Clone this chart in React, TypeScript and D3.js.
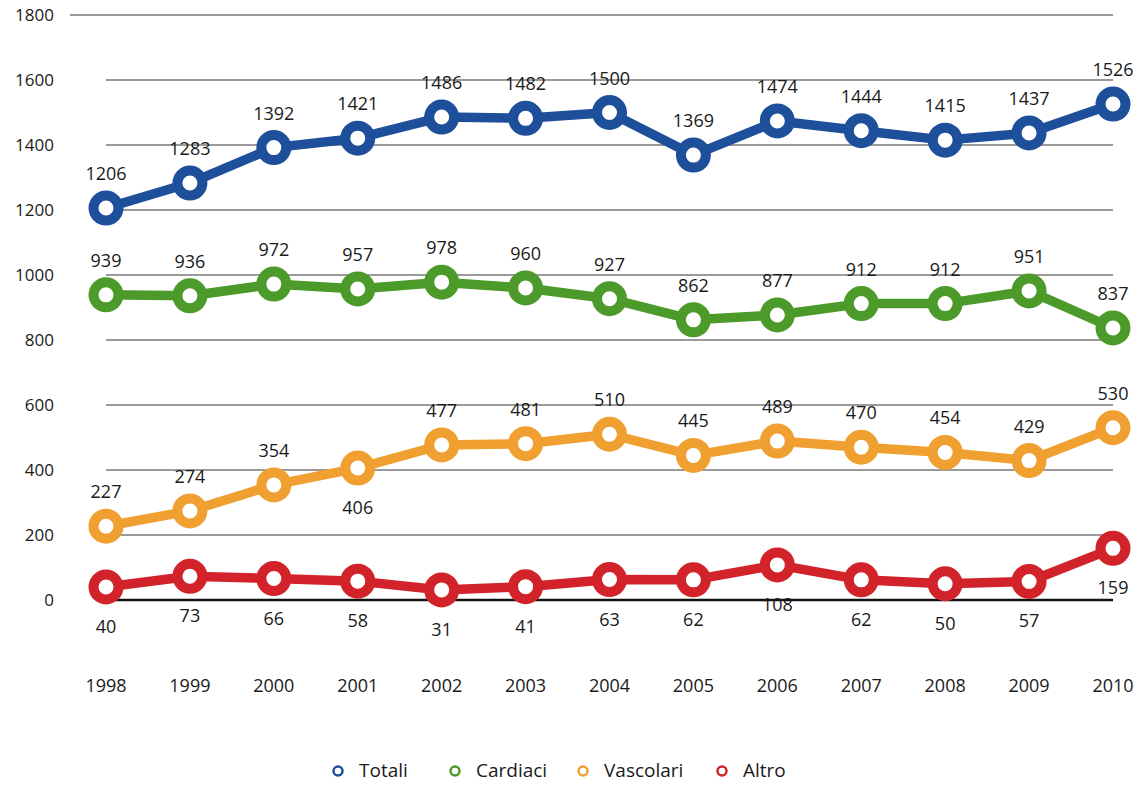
import React from "react";
import * as d3 from "d3";

const years = ["1998", "1999", "2000", "2001", "2002", "2003", "2004", "2005", "2006", "2007", "2008", "2009", "2010"];
const totali = [1206, 1283, 1392, 1421, 1486, 1482, 1500, 1369, 1474, 1444, 1415, 1437, 1526];
const cardiaci = [939, 936, 972, 957, 978, 960, 927, 862, 877, 912, 912, 951, 837];
const vascolari = [227, 274, 354, 406, 477, 481, 510, 445, 489, 470, 454, 429, 530];
const altro = [40, 73, 66, 58, 31, 41, 63, 62, 108, 62, 50, 57, 159];
const yTicks = [0, 200, 400, 600, 800, 1000, 1200, 1400, 1600, 1800];

// where the value label sits for each point ("a" above, "b" below)
const vascolariPos = ["a", "a", "a", "b", "a", "a", "a", "a", "a", "a", "a", "a", "a"];

const series = [
  { name: "Totali", values: totali, color: "#1e4f9b", pos: null },
  { name: "Cardiaci", values: cardiaci, color: "#4c9a2a", pos: null },
  { name: "Vascolari", values: vascolari, color: "#f0a030", pos: vascolariPos },
  { name: "Altro", values: altro, color: "#d2232a", pos: years.map(() => "b") },
];

const W = 1147, H = 785;

export default function App() {
  const x = d3.scalePoint<string>().domain(years).range([106, 1113]);
  const y = d3.scaleLinear().domain([0, 1800]).range([600, 15]);

  const line = d3
    .line<number>()
    .x((d, i) => x(years[i]) as number)
    .y((d) => y(d));

  const legendX = [338, 455, 583, 722];

  return (
    <div style={{ position: "absolute", left: 0, top: 0 }}>
      <svg width={W} height={H} style={{ display: "block", background: "#fff" }} fontFamily="'Open Sans', sans-serif">
        {/* grid */}
        {yTicks.map((t) => (
          <g key={t}>
            <line
              x1={t === 1800 ? 70 : 106}
              x2={1113}
              y1={y(t)}
              y2={y(t)}
              stroke={t === 0 ? "#111" : "#9a9a9a"}
              strokeWidth={t === 0 ? 2.5 : 2}
            />
            <text x={54} y={y(t) + 6} textAnchor="end" fontSize={17} fill="#1a1a1a">
              {t}
            </text>
          </g>
        ))}

        {/* years */}
        {years.map((yr) => (
          <text key={yr} x={x(yr)} y={692} textAnchor="middle" fontSize={18} fill="#1a1a1a">
            {yr}
          </text>
        ))}

        {/* series */}
        {series.map((s) => (
          <g key={s.name}>
            <path d={line(s.values) || ""} fill="none" stroke={s.color} strokeWidth={9.5} strokeLinejoin="round" />
            {s.values.map((v, i) => (
              <circle key={i} cx={x(years[i])} cy={y(v)} r={12.5} fill="#fff" stroke={s.color} strokeWidth={10} />
            ))}
            {s.values.map((v, i) => {
              const below = s.pos && s.pos[i] === "b";
              return (
                <text
                  key={"l" + i}
                  x={x(years[i])}
                  y={y(v) + (below ? 46 : -28)}
                  textAnchor="middle"
                  fontSize={18}
                  fill="#1a1a1a"
                >
                  {v}
                </text>
              );
            })}
          </g>
        ))}

        {/* legend */}
        {series.map((s, i) => (
          <g key={"lg" + s.name}>
            <circle cx={legendX[i]} cy={771} r={4.5} fill="#fff" stroke={s.color} strokeWidth={2.5} />
            <text x={legendX[i] + 21} y={777} fontSize={19} fill="#1a1a1a">
              {s.name}
            </text>
          </g>
        ))}
      </svg>
    </div>
  );
}
